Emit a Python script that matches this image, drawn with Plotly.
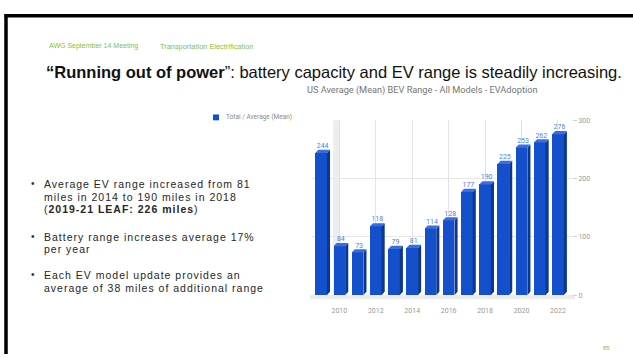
import plotly.graph_objects as go

# US average (mean) BEV range, all models, by model year
years = [2009, 2010, 2011, 2012, 2013, 2014, 2015, 2016, 2017, 2018, 2019, 2020, 2021, 2022]
avg_range = [244, 84, 73, 118, 79, 81, 114, 128, 177, 190, 225, 253, 262, 276]
x_tick_years = [2010, 2012, 2014, 2016, 2018, 2020, 2022]
y_tick_vals = [0, 100, 200, 300]

W, H = 633, 358
BAR_W = 0.64      # front face width (years)
DX = 0.17         # 3D depth offset along x (years)
DY = 5.5          # 3D depth offset along y (miles)

FRONT = "#1450cc"
SIDE = "#0b3790"
TOP = "#3a6ee0"
LABEL = "#4f7fe3"
GRAY_TXT = "#9a9a9a"
GREEN = "#7cc24a"
FONT_SLIDE = "Liberation Sans, Arial, sans-serif"
FONT_CHART = "Roboto, sans-serif"


def px_x(p):
    return p / W


def px_y(p):
    return (H - p) / H


def spaced(s, px):
    return '<span style="letter-spacing:%spx">%s</span>' % (px, s)


# polygons for the side and top faces of each column
side_x, side_y, top_x, top_y = [], [], [], []
for x, v in zip(years, avg_range):
    xl, xr = x - BAR_W / 2, x + BAR_W / 2
    side_x += [xr, xr + DX, xr + DX, xr, xr, None]
    side_y += [0, DY, v + DY, v, 0, None]
    top_x += [xl, xr, xr + DX, xl + DX, xl, None]
    top_y += [v, v, v + DY, v + DY, v, None]

fig = go.Figure()
fig.add_trace(go.Bar(x=years, y=avg_range, width=BAR_W,
                     marker=dict(color=FRONT, line=dict(width=0)),
                     name="Total / Average (Mean)", showlegend=False))
fig.add_trace(go.Scatter(x=side_x, y=side_y, mode="lines", fill="toself",
                         fillcolor=SIDE, line=dict(width=0, color=SIDE),
                         hoverinfo="skip", showlegend=False))
fig.add_trace(go.Scatter(x=top_x, y=top_y, mode="lines", fill="toself",
                         fillcolor=TOP, line=dict(width=0, color=TOP),
                         hoverinfo="skip", showlegend=False))
fig.add_trace(go.Scatter(x=[x + DX / 2 for x in years],
                         y=[v + DY for v in avg_range],
                         mode="text", text=[str(v) for v in avg_range],
                         textposition="top center",
                         textfont=dict(family=FONT_CHART, size=7, color=LABEL),
                         hoverinfo="skip", showlegend=False, cliponaxis=False))

shapes = [
    # slide frame
    dict(type="line", xref="paper", yref="paper", x0=px_x(4.5), x1=1.0,
         y0=px_y(12), y1=px_y(12), line=dict(color="#000000", width=3.5)),
    dict(type="line", xref="paper", yref="paper", x0=px_x(6), x1=px_x(6),
         y0=px_y(10.5), y1=0, line=dict(color="#000000", width=3.5)),
    # chart floor
    dict(type="rect", xref="paper", yref="paper", x0=px_x(310), x1=px_x(575),
         y0=px_y(302), y1=px_y(297.5), fillcolor="#ececec",
         line=dict(width=0), layer="below"),
    # back wall edge
    dict(type="rect", xref="x", yref="paper", x0=2009.66, x1=2010.04,
         y0=px_y(298), y1=px_y(119), fillcolor="#ededed",
         line=dict(width=0), layer="below"),
    # legend swatch
    dict(type="rect", xref="paper", yref="paper", x0=px_x(213), x1=px_x(219),
         y0=px_y(119), y1=px_y(113), fillcolor=FRONT, line=dict(width=0)),
]

annotations = [
    dict(text="AWG September 14 Meeting", x=px_x(47), y=px_y(43),
         font=dict(family=FONT_SLIDE, size=7, color=GREEN)),
    dict(text="Transportation Electrification", x=px_x(158), y=px_y(43),
         font=dict(family=FONT_SLIDE, size=7.4, color=GREEN)),
    dict(text="<b>“Running out of power</b>”: battery capacity and EV range is steadily increasing.",
         x=px_x(44), y=px_y(70),
         font=dict(family=FONT_SLIDE, size=16.5, color="#111111")),
    dict(text="US Average (Mean) BEV Range - All Models - EVAdoption",
         x=px_x(305), y=px_y(88),
         font=dict(family=FONT_CHART, size=9.2, color="#757575")),
    dict(text="Total / Average (Mean)", x=px_x(224), y=px_y(116),
         font=dict(family=FONT_CHART, size=6.5, color="#8a8a8a")),
    dict(text="85", x=px_x(601), y=px_y(352),
         font=dict(family=FONT_SLIDE, size=6, color=GREEN)),
]

bullet_lines = [
    ("•", "Average EV range increased from 81", 184),
    (None, "miles in 2014 to 190 miles in 2018", 197),
    (None, "(<b>2019-21 LEAF: 226 miles</b>)", 210),
    ("•", "Battery range increases average 17%", 238),
    (None, "per year", 251),
    ("•", "Each EV model update provides an", 277),
    (None, "average of 38 miles of additional range", 290),
]
for bullet, line, ypx in bullet_lines:
    if bullet:
        annotations.append(dict(text=bullet, x=px_x(29), y=px_y(ypx),
                                font=dict(family=FONT_SLIDE, size=10, color="#333333")))
    annotations.append(dict(text=spaced(line, 1.0), x=px_x(42), y=px_y(ypx),
                            font=dict(family=FONT_SLIDE, size=10.5, color="#262626")))

for a in annotations:
    a.update(xref="paper", yref="paper", xanchor="left", yanchor="middle",
             showarrow=False)

fig.update_layout(
    width=W, height=H,
    margin=dict(l=0, r=0, t=0, b=0),
    paper_bgcolor="white", plot_bgcolor="white",
    showlegend=False,
    bargap=0,
    shapes=shapes,
    annotations=annotations,
    xaxis=dict(domain=[px_x(312), px_x(572)], range=[2008.5, 2022.77],
               tickmode="array", tickvals=x_tick_years,
               ticktext=[str(t) for t in x_tick_years],
               showgrid=True, gridcolor="#e2e2e2", gridwidth=1,
               zeroline=False, showline=False,
               ticks="outside", ticklen=9, tickcolor="rgba(0,0,0,0)",
               tickfont=dict(family=FONT_CHART, size=7, color=GRAY_TXT),
               fixedrange=True),
    yaxis=dict(domain=[px_y(297.7), px_y(119)], range=[0, 300], side="right",
               tickmode="array", tickvals=y_tick_vals,
               showgrid=True, gridcolor="#e6e6e6", gridwidth=1,
               zeroline=False, showline=False,
               ticks="outside", ticklen=4, tickcolor="#d0d0d0",
               tickfont=dict(family=FONT_CHART, size=7, color=GRAY_TXT),
               fixedrange=True),
)

fig.write_html("out.html")
